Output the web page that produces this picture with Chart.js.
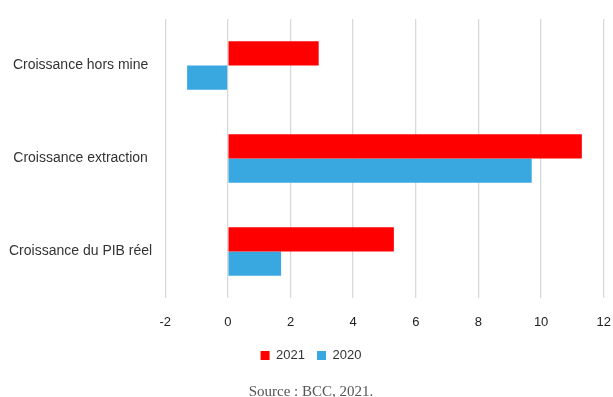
<!DOCTYPE html>
<html>
<head>
<meta charset="utf-8">
<script src="https://cdn.jsdelivr.net/npm/chart.js@4/dist/chart.umd.min.js"></script>
<style>
  html, body { margin: 0; padding: 0; background: #fff; }
  #wrap { width: 613px; height: 397px; }
</style>
</head>
<body>
<div id="wrap"><canvas id="growthChart" width="613" height="397"></canvas></div>
<script>
// Categories, top to bottom
const categories = ['Croissance hors mine', 'Croissance extraction', 'Croissance du PIB réel'];
// Growth values (%)
const values2021 = [2.9, 11.3, 5.3];
const values2020 = [-1.3, 9.7, 1.7];
// X axis range
const xMin = -2;
const xMax = 12;
const xStep = 2;

const sans = "'Liberation Sans', Arial, Helvetica, sans-serif";

const ctx = document.getElementById('growthChart').getContext('2d');
const growthChart = new Chart(ctx, {
    type: 'bar',
    data: {
        labels: categories,
        datasets: [{
            label: '2021',
            data: values2021,
            backgroundColor: '#ff0000',
            borderWidth: 0
        }, {
            label: '2020',
            data: values2020,
            backgroundColor: '#3aa8e0',
            borderWidth: 0
        }]
    },
    options: {
        indexAxis: 'y',
        responsive: false,
        animation: false,
        layout: {
            padding: { left: 9, right: 0, top: 19, bottom: -3 }
        },
        datasets: {
            bar: {
                categoryPercentage: 0.52,
                barPercentage: 1
            }
        },
        scales: {
            x: {
                min: xMin,
                max: xMax,
                border: { display: false },
                grid: {
                    color: '#d9d9d9',
                    lineWidth: 1.3,
                    drawTicks: true,
                    tickLength: 15,
                    tickColor: 'rgba(0,0,0,0)'
                },
                ticks: {
                    stepSize: xStep,
                    padding: 2,
                    color: '#222',
                    font: { family: sans, size: 13 }
                },
                // fixed axis height so the legend sits where it should
                afterFit: function (scale) {
                    scale.height = 39;
                }
            },
            y: {
                border: { display: false },
                grid: {
                    color: 'rgba(0,0,0,0)',
                    drawOnChartArea: false,
                    drawTicks: true,
                    tickLength: 13,
                    tickColor: 'rgba(0,0,0,0)'
                },
                ticks: {
                    crossAlign: 'center',
                    padding: 0,
                    color: '#333',
                    font: { family: sans, size: 14 }
                }
            }
        },
        plugins: {
            legend: {
                position: 'bottom',
                labels: {
                    boxWidth: 9,
                    boxHeight: 9,
                    padding: 12,
                    color: '#333',
                    font: { family: sans, size: 13 }
                }
            },
            subtitle: {
                display: true,
                position: 'bottom',
                text: 'Source : BCC, 2021.',
                color: '#555',
                font: { family: "'Liberation Serif', 'Times New Roman', serif", size: 15, weight: 'normal' },
                padding: { top: 11, bottom: -1 }
            },
            tooltip: { enabled: false }
        }
    }
});
</script>
</body>
</html>
